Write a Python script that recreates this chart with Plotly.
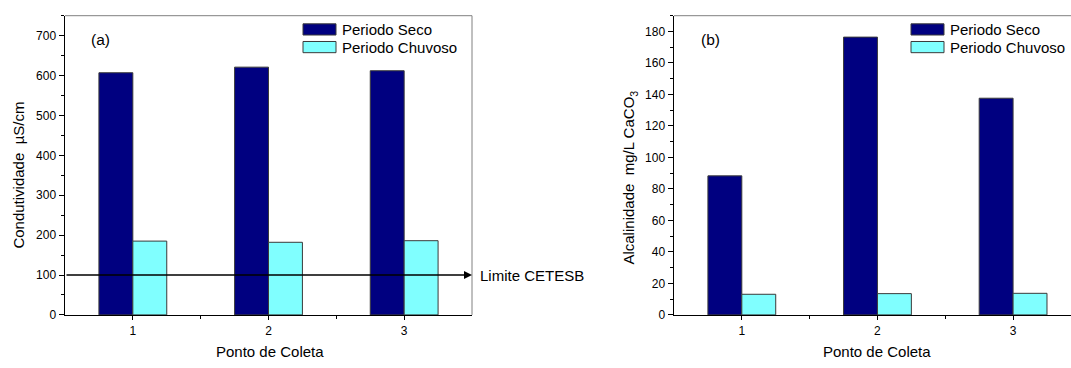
import plotly.graph_objects as go

W, H = 1071, 368

# ---- data ----
pontos = [1, 2, 3]
tick_labels = ["1", "2", "3"]
series_names = ["Periodo Seco", "Periodo Chuvoso"]
condutividade_seco = [607, 621, 612]
condutividade_chuvoso = [185, 182, 186]
alcalinidade_seco = [88.3, 176.4, 137.6]
alcalinidade_chuvoso = [13.1, 13.5, 13.7]
limite_cetesb = 100

colors = ["#000080", "#80FFFF"]
FONT = "Liberation Sans, Arial, sans-serif"

def px_x(p):
    return p / W

def px_y(p):
    return 1 - p / H

fig = go.Figure()

panels = [
    dict(xa="x", ya="y", vals=[condutividade_seco, condutividade_chuvoso]),
    dict(xa="x2", ya="y2", vals=[alcalinidade_seco, alcalinidade_chuvoso]),
]
for pi, p in enumerate(panels):
    for si, v in enumerate(p["vals"]):
        fig.add_trace(go.Bar(
            x=pontos, y=v, name=series_names[si],
            xaxis=p["xa"], yaxis=p["ya"],
            marker=dict(color=colors[si], line=dict(color="#3a3a3a", width=1)),
            offsetgroup=str(si), showlegend=False, hoverinfo="skip",
        ))

ydom = [px_y(321), px_y(16)]
common_x = dict(
    tickvals=pontos, ticktext=tick_labels, showline=True, linecolor="black",
    linewidth=1.5, ticks="outside", ticklen=4, tickwidth=1, tickcolor="black",
    showgrid=False, zeroline=False,
    tickfont=dict(family=FONT, size=12, color="black"),
    minor=dict(tickvals=[1.5, 2.5], ticks="outside", ticklen=3, tickcolor="black"),
)
common_y = dict(
    showline=True, linecolor="black", linewidth=1.5, ticks="outside", ticklen=5,
    tickwidth=1, tickcolor="black", showgrid=False, zeroline=False,
    tickfont=dict(family=FONT, size=12, color="black"),
)

fig.update_layout(
    width=W, height=H, margin=dict(l=0, r=0, t=0, b=0),
    paper_bgcolor="white", plot_bgcolor="white",
    barmode="group", bargap=0.5, bargroupgap=0,
    showlegend=False, hovermode=False,
    xaxis=dict(domain=[px_x(65), px_x(472)], range=[0.5, 3.5], anchor="y", **common_x),
    yaxis=dict(domain=ydom, range=[0, 750], dtick=100, anchor="x",
               minor=dict(dtick=50, ticks="outside", ticklen=3, tickcolor="black"), **common_y),
    xaxis2=dict(domain=[px_x(674), 1.0], range=[0.5, 3.427], anchor="y2", **common_x),
    yaxis2=dict(domain=ydom, range=[0, 190], dtick=20, anchor="x2",
                minor=dict(dtick=10, ticks="outside", ticklen=3, tickcolor="black"), **common_y),
    font=dict(family=FONT, color="black"),
)

shapes = []
annotations = []
# frame lines (top & right, gray)
shapes.append(dict(type="line", xref="paper", yref="paper", x0=px_x(65), x1=px_x(472),
                   y0=px_y(16), y1=px_y(16), line=dict(color="#808080", width=1)))
shapes.append(dict(type="line", xref="paper", yref="paper", x0=px_x(472), x1=px_x(472),
                   y0=px_y(16), y1=px_y(321), line=dict(color="#808080", width=1)))
shapes.append(dict(type="line", xref="paper", yref="paper", x0=px_x(674), x1=1.0,
                   y0=px_y(16), y1=px_y(16), line=dict(color="#808080", width=1)))

# custom legends
for lx in [303, 911]:
    for si, (y0, y1) in enumerate([(24.3, 35.7), (42.3, 53.7)]):
        shapes.append(dict(type="rect", xref="paper", yref="paper",
                           x0=px_x(lx), x1=px_x(lx + 33), y0=px_y(y1), y1=px_y(y0),
                           fillcolor=colors[si], line=dict(color="#3a3a3a", width=1)))
        annotations.append(dict(xref="paper", yref="paper", x=px_x(lx + 37), y=px_y((y0 + y1) / 2),
                                text=series_names[si], showarrow=False, xanchor="left",
                                yanchor="middle", font=dict(family=FONT, size=15, color="black")))

# panel labels
annotations.append(dict(xref="paper", yref="paper", x=px_x(89), y=px_y(40), text="(a)",
                        showarrow=False, xanchor="left", yanchor="middle",
                        font=dict(family=FONT, size=15.5, color="black")))
annotations.append(dict(xref="paper", yref="paper", x=px_x(699), y=px_y(40), text="(b)",
                        showarrow=False, xanchor="left", yanchor="middle",
                        font=dict(family=FONT, size=15.5, color="black")))

# axis titles
annotations.append(dict(xref="paper", yref="paper", x=px_x(19), y=px_y(179),
                        text="Condutividade  µS/cm", textangle=-90, showarrow=False,
                        xanchor="center", yanchor="middle",
                        font=dict(family=FONT, size=15, color="black")))
annotations.append(dict(xref="paper", yref="paper", x=px_x(630), y=px_y(181),
                        text="Alcalinidade  mg/L CaCO<sub>3</sub>", textangle=-90, showarrow=False,
                        xanchor="center", yanchor="middle",
                        font=dict(family=FONT, size=15, color="black")))
for cx in [270, 877]:
    annotations.append(dict(xref="paper", yref="paper", x=px_x(cx), y=px_y(358),
                            text="Ponto de Coleta", showarrow=False,
                            xanchor="center", yanchor="middle",
                            font=dict(family=FONT, size=15, color="black")))

# limit line with arrow
annotations.append(dict(xref="x", yref="y", axref="x", ayref="y",
                        x=3.5, y=limite_cetesb, ax=0.5, ay=limite_cetesb,
                        showarrow=True, arrowhead=2, arrowsize=1, arrowwidth=1.6,
                        arrowcolor="black", text=""))
annotations.append(dict(xref="paper", yref="y", x=px_x(478), y=limite_cetesb,
                        text="Limite CETESB", showarrow=False, xanchor="left", yanchor="middle",
                        font=dict(family=FONT, size=15, color="black")))

fig.update_layout(shapes=shapes, annotations=annotations)
fig.write_html("out.html",
               config={"displayModeBar": False, "staticPlot": True},
               post_script="document.body.style.margin='0';document.body.style.overflow='hidden';")
